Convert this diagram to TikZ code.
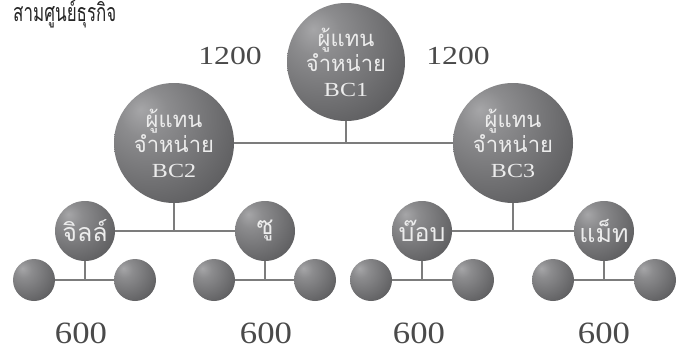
\documentclass[tikz,border=0pt]{standalone}
\usepackage{fontspec}
\setmainfont{Liberation Serif}
\newfontfamily\thai[Script=Thai]{Loma}
\definecolor{sA}{HTML}{A6A6A8}
\definecolor{sB}{HTML}{8C8C8E}
\definecolor{sC}{HTML}{5E5E60}
\definecolor{sD}{HTML}{353537}
\definecolor{lineC}{HTML}{7C7C7C}
\definecolor{numC}{HTML}{4A4A4A}
\definecolor{txtC}{HTML}{ECECEC}
\pgfdeclareradialshading{sph}{\pgfpoint{-14bp}{14bp}}{color(0bp)=(sA); color(10bp)=(sB); color(38bp)=(sC); color(64bp)=(sD); color(100bp)=(sD)}
\newcommand{\bclabel}[1]{{\rmfamily\fontsize{20}{25}\selectfont\scalebox{1.2}[1]{#1}}}
\tikzset{
  ball/.style={circle, inner sep=0pt, shading=sph, text=txtC, align=center},
  big/.style={ball, minimum size=118pt, font=\thai\fontsize{22}{25}\selectfont},
  mid/.style={ball, minimum size=60pt, font=\thai\fontsize{25}{28}\selectfont},
  small/.style={ball, minimum size=42pt},
  conn/.style={draw=lineC, line width=2.2pt},
  num/.style={text=numC, font=\fontsize{31}{31}\selectfont},
  numtop/.style={text=numC, font=\fontsize{26}{26}\selectfont},
}
\begin{document}
\begin{tikzpicture}[x=1pt,y=1pt]
\useasboundingbox (0,0) rectangle (688,-349);
% title
\node[anchor=base west, inner sep=0pt, text=black!85, font=\thai\fontsize{25}{26}\selectfont] (title) at (13,-21) {\scalebox{0.68}[1]{สามศูนย์ธุรกิจ}};
% junction coordinates
\coordinate (j1) at (346,-143);
\coordinate (j2) at (174,-231);
\coordinate (j3) at (513,-231);
\coordinate (k1) at (85,-280);
\coordinate (k2) at (265,-280);
\coordinate (k3) at (422,-280);
\coordinate (k4) at (604,-280);
% nodes
\node[big] (bc1) at (346,-62) {ผู้แทน\\จำหน่าย\\\bclabel{BC1}};
\node[big, minimum size=120pt] (bc2) at (174,-143) {ผู้แทน\\จำหน่าย\\\bclabel{BC2}};
\node[big, minimum size=120pt] (bc3) at (513,-143) {ผู้แทน\\จำหน่าย\\\bclabel{BC3}};
\node[mid] (jill) at (85,-231) {จิลล์};
\node[mid] (su) at (265,-231) {ซู};
\node[mid] (bob) at (422,-231) {บ๊อบ};
\node[mid] (matt) at (604,-231) {แม็ท};
\node[small] (s1) at (34,-280) {};
\node[small] (s2) at (135,-280) {};
\node[small] (s3) at (214,-280) {};
\node[small] (s4) at (315,-280) {};
\node[small] (s5) at (371,-280) {};
\node[small] (s6) at (473,-280) {};
\node[small] (s7) at (553,-280) {};
\node[small] (s8) at (655,-280) {};
% connectors
\draw[conn] (bc2) -- (bc3);
\draw[conn] (bc1) -- (j1);
\draw[conn] (jill) -- (su);
\draw[conn] (bob) -- (matt);
\draw[conn] (bc2) -- (j2);
\draw[conn] (bc3) -- (j3);
\draw[conn] (s1) -- (s2);
\draw[conn] (s3) -- (s4);
\draw[conn] (s5) -- (s6);
\draw[conn] (s7) -- (s8);
\draw[conn] (jill) -- (k1);
\draw[conn] (su) -- (k2);
\draw[conn] (bob) -- (k3);
\draw[conn] (matt) -- (k4);
% numbers
\node[numtop] (n1) at (230,-56) {\scalebox{1.22}[1]{1200}};
\node[numtop] (n2) at (458,-56) {\scalebox{1.22}[1]{1200}};
\node[num] (m1) at (81,-333) {\scalebox{1.12}[1]{600}};
\node[num] (m2) at (266,-333) {\scalebox{1.12}[1]{600}};
\node[num] (m3) at (419,-333) {\scalebox{1.12}[1]{600}};
\node[num] (m4) at (604,-333) {\scalebox{1.12}[1]{600}};
\end{tikzpicture}
\end{document}
